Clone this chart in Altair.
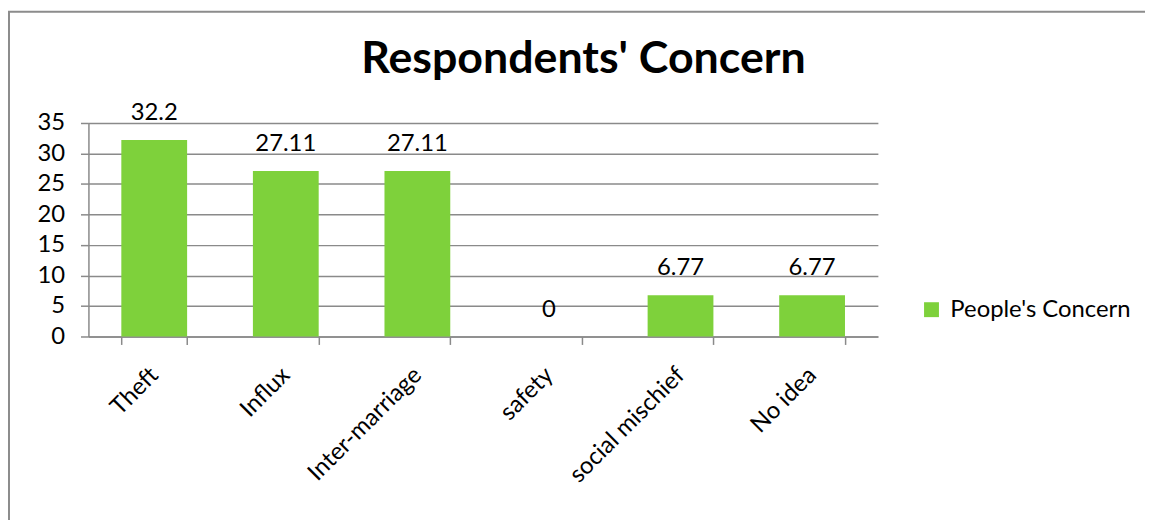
import altair as alt
import pandas as pd

categories = ["Theft", "Influx", "Inter-marriage", "safety", "social mischief", "No idea"]
values = [32.2, 27.11, 27.11, 0, 6.77, 6.77]
value_labels = ["32.2", "27.11", "27.11", "0", "6.77", "6.77"]
series_name = "People's Concern"
y_ticks = [0, 5, 10, 15, 20, 25, 30, 35]

df = pd.DataFrame({
    "cat": categories,
    "val": values,
    "lab": value_labels,
    "series": [series_name] * len(categories),
})

FONT = "Lato"
GRID = "#8a8a8a"
GREEN = "#7ED13B"

x_enc = alt.X(
    "cat:N", sort=categories, title=None,
    scale=alt.Scale(paddingInner=0.5, paddingOuter=0.25),
    axis=alt.Axis(labelAngle=-45, labelAlign="right", labelBaseline="middle",
                  tickBand="extent", grid=False, labelFontSize=24, labelFont=FONT,
                  labelColor="black", labelPadding=27, tickSize=8, tickColor=GRID,
                  domainColor=GRID, domainWidth=1.5, tickWidth=1.5, labelLimit=400),
)
y_enc = alt.Y(
    "val:Q", title=None,
    scale=alt.Scale(domain=[0, 35], nice=False, zero=True),
    axis=alt.Axis(values=y_ticks, tickSize=8, labelPadding=16, labelFontSize=24,
                  labelFont=FONT, labelColor="black", gridColor=GRID, gridWidth=1.5,
                  tickColor=GRID, tickWidth=1.5, domainColor=GRID, domainWidth=1.5),
)

bars = alt.Chart(df).mark_bar().encode(
    x=x_enc, y=y_enc,
    color=alt.Color("series:N", scale=alt.Scale(range=[GREEN]),
                    legend=alt.Legend(title=None, orient="none", legendX=837, legendY=176,
                                      symbolType="square", symbolSize=225,
                                      symbolStrokeWidth=0, labelFontSize=24,
                                      labelFont=FONT, labelColor="black", labelOffset=7,
                                      labelLimit=400)),
)

text = alt.Chart(df).mark_text(baseline="alphabetic", dy=-20, fontSize=24, font=FONT,
                               color="black").encode(x=x_enc, y=y_enc, text="lab:N")

frame = alt.Chart(pd.DataFrame({"f": [0]})).mark_rect(
    fill="transparent", stroke="#8c8c8c", strokeWidth=2
).encode(x=alt.value(-80), x2=alt.value(2000), y=alt.value(-112), y2=alt.value(2000))

chart = alt.layer(frame, bars, text).properties(
    width=795, height=215,
    title=alt.TitleParams("Respondents' Concern", fontSize=45, font=FONT,
                          fontWeight="bold", color="black", anchor="middle",
                          frame="group", dx=101, baseline="alphabetic", offset=-108),
    autosize=alt.AutoSizeParams(type="none"),
    padding={"left": 81, "top": 114, "right": 269, "bottom": 183},
).configure_view(stroke=None)

chart.save("out.html", embed_options={"renderer": "svg", "actions": False})
